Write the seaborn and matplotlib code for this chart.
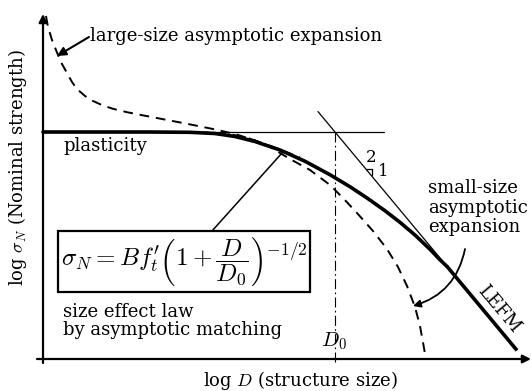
import numpy as np
import pandas as pd
import seaborn as sns
import matplotlib.pyplot as plt
from matplotlib.patches import Rectangle, FancyArrowPatch

# ---- curves in log units: x = log(D/D0), y = log(sigma_N / B f't) ----
# size effect law (thick solid)
law_logD = [-2.92, -1.85, -1.45, -1.20, -1.00, -0.80, -0.55, -0.30, -0.05, 0.15,
            0.32, 0.50, 0.65, 0.80, 0.95, 1.05, 1.12]
law_logS = [0.0, 0.0, -0.0013, -0.0063, -0.0188, -0.0396, -0.075, -0.1219, -0.1781, -0.2281,
            -0.2749, -0.3281, -0.3763, -0.4294, -0.4888, -0.5325, -0.5604]

# LEFM asymptote (slope -1/2): thin part and thick continuation
lefm_thin_logD = [-0.17, 1.12]
lefm_thin_logS = [0.085, -0.56]
lefm_thick_logD = [1.12, 1.82]
lefm_thick_logS = [-0.56, -0.91]

# large-size asymptotic expansion (dashed)
large_logD = [-2.89, -2.87, -2.83, -2.77, -2.73, -2.68, -2.63, -2.58, -2.50, -2.42, -2.32,
              -2.22, -2.08, -1.95, -1.75, -1.48, -1.22, -1.00, -0.80, -0.55, -0.35]
large_logS = [0.4833, 0.4375, 0.3833, 0.3208, 0.2833, 0.2458, 0.2083, 0.1792, 0.15, 0.1292,
              0.1104, 0.0967, 0.0825, 0.0717, 0.0558, 0.0342, 0.0125, -0.0083, -0.0354,
              -0.0729, -0.1063]

# small-size asymptotic expansion (dashed)
small_logD = [-1.85, -1.35, -1.10, -0.90, -0.70, -0.45, -0.25, -0.05, 0.08, 0.22, 0.38,
              0.52, 0.63, 0.72, 0.80, 0.85, 0.89, 0.90]
small_logS = [0.0, -0.0013, -0.0063, -0.0208, -0.05, -0.1125, -0.1583, -0.2208, -0.275,
              -0.3375, -0.4125, -0.4875, -0.5625, -0.6417, -0.7292, -0.8083, -0.90, -0.925]

# plasticity level and reference size
plastic_logS = 0.0
D0_logD = 0.0

# ---- figure ----
W, H = 532, 391
X0, SX, Y0, SY = 335.0, 100.0, 132.0, 240.0


def P(px, py):
    """figure-pixel position -> data coordinates"""
    return (px - X0) / SX, (Y0 - py) / SY


sns.set_theme(style="white")
plt.rcParams['font.family'] = ['DejaVu Serif']
plt.rcParams['mathtext.fontset'] = 'cm'
plt.rcParams['text.color'] = 'black'

fig = plt.figure(figsize=(W / 100, H / 100), dpi=100)
ax = fig.add_axes([0, 0, 1, 1])
ax.set_xlim(P(0, 0)[0], P(W, 0)[0])
ax.set_ylim(P(0, H)[1], P(0, 0)[1])
ax.axis('off')

k = 'black'

# axes with arrows
ax.annotate('', xy=P(531, 359), xytext=P(37, 359),
            arrowprops=dict(arrowstyle='-|>', lw=1.6, color=k, mutation_scale=12, shrinkA=0, shrinkB=0))
ax.annotate('', xy=P(43, 14), xytext=P(43, 363),
            arrowprops=dict(arrowstyle='-|>', lw=1.6, color=k, mutation_scale=12, shrinkA=0, shrinkB=0))

# plasticity horizontal (thin) and D0 vertical (dash-dot)
ax.plot([law_logD[0], P(384, 0)[0]], [plastic_logS, plastic_logS], color=k, lw=0.9)
ax.plot([D0_logD, D0_logD], [plastic_logS, P(0, 363)[1]], color=k, lw=0.8,
        linestyle=(0, (9, 3, 1.5, 3)))

# LEFM
sns.lineplot(x=lefm_thin_logD, y=lefm_thin_logS, ax=ax, color=k, lw=0.9, estimator=None)
sns.lineplot(x=lefm_thick_logD, y=lefm_thick_logS, ax=ax, color=k, lw=2.6, estimator=None,
             solid_capstyle='butt')

# asymptotic expansions (dashed)
sns.lineplot(x=large_logD, y=large_logS, ax=ax, color=k, lw=1.4, estimator=None, sort=False,
             linestyle=(0, (5, 3.5)))
sns.lineplot(x=small_logD, y=small_logS, ax=ax, color=k, lw=1.4, estimator=None, sort=False,
             linestyle=(0, (5, 3.5)))

# size effect law (thick)
sns.lineplot(x=law_logD, y=law_logS, ax=ax, color=k, lw=2.6, estimator=None, sort=False,
             solid_joinstyle='round')

# slope mark 2:1
ax.plot(*zip(P(366, 169), P(372, 169), P(372, 175)), color=k, lw=0.9)
ax.text(*P(371, 157), '2', fontsize=12, ha='center', va='center')
ax.text(*P(383, 172), '1', fontsize=12, ha='center', va='center')

# labels
fs = 13
ax.text(*P(90, 36), 'large-size asymptotic expansion', fontsize=fs, ha='left', va='center')
ax.annotate('', xy=P(57, 56), xytext=P(89, 37),
            arrowprops=dict(arrowstyle='-|>', lw=1.5, color=k, mutation_scale=13, shrinkA=0, shrinkB=0))
ax.text(*P(63, 146), 'plasticity', fontsize=fs, ha='left', va='center')
ax.text(*P(63, 312), 'size effect law', fontsize=fs, ha='left', va='center')
ax.text(*P(63, 330), 'by asymptotic matching', fontsize=fs, ha='left', va='center')
ax.text(*P(428, 188), 'small-size', fontsize=fs, ha='left', va='center')
ax.text(*P(428, 208), 'asymptotic', fontsize=fs, ha='left', va='center')
ax.text(*P(428, 227), 'expansion', fontsize=fs, ha='left', va='center')
ax.text(*P(499, 309), 'LEFM', fontsize=fs, ha='center', va='center', rotation=-50,
        rotation_mode='anchor')
ax.text(*P(334, 341), r'$D_0$', fontsize=15, ha='center', va='center')

# formula box with leader to the curve
bx0, by0 = P(58, 292)
bx1, by1 = P(310, 231)
ax.add_patch(Rectangle((bx0, by0), bx1 - bx0, by1 - by0, fill=False, ec=k, lw=1.6))
ax.text(*P(184, 262), r"$\sigma_N = Bf_t'\left(1+\dfrac{D}{D_0}\right)^{-1/2}$",
        fontsize=18, ha='center', va='center')
ax.plot(*zip(P(212, 231), P(282, 153)), color=k, lw=1.1)

# curved arrow from small-size label to its dashed curve
ax.add_patch(FancyArrowPatch(P(465, 249), P(413, 306), connectionstyle='arc3,rad=-0.3',
                             arrowstyle='-|>', mutation_scale=11, lw=1.3, color=k,
                             shrinkA=0, shrinkB=0))

# axis titles
ax.text(*P(300, 380), r'log $D$ (structure size)', fontsize=fs, ha='center', va='center')
ax.text(*P(18, 168), r'log $\sigma_N$ (Nominal strength)', fontsize=fs, ha='center', va='center',
        rotation=90)

fig.savefig('out.png', dpi=100)
